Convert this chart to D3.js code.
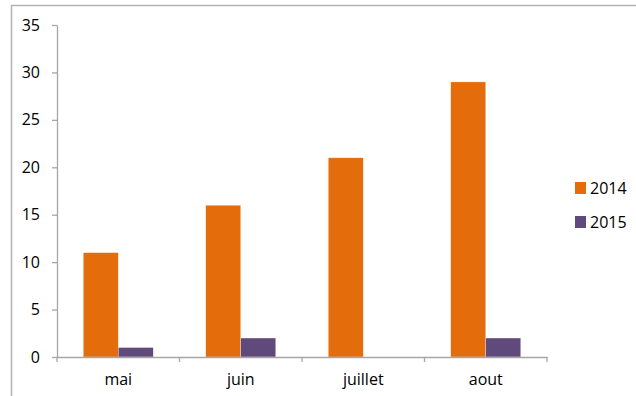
<!DOCTYPE html>
<html>
<head>
<meta charset="utf-8">
<script src="https://cdn.jsdelivr.net/npm/d3@7"></script>
<style>
  body { margin: 0; background: #fff; }
  text { font-family: "Open Sans", "Liberation Sans", sans-serif; fill: #000; }
</style>
</head>
<body>
<svg id="chart" width="636" height="396"></svg>
<script>
// chart data
var months = ["mai", "juin", "juillet", "aout"];
var years = ["2014", "2015"];
var values2014 = [11, 16, 21, 29];
var values2015 = [1, 2, 0, 2];
var yTicks = [0, 5, 10, 15, 20, 25, 30, 35];
var colors = ["#e46c0a", "#604a7b"];

var svg = d3.select("#chart");

// outer frame (only top and left edges show)
svg.append("line").attr("x1", 11).attr("x2", 636).attr("y1", 5.5).attr("y2", 5.5)
    .style("stroke", "#b3b3b3").style("stroke-width", 1.5);
svg.append("line").attr("x1", 11.5).attr("x2", 11.5).attr("y1", 5).attr("y2", 396)
    .style("stroke", "#b3b3b3").style("stroke-width", 1.5);

var plotLeft = 57, plotRight = 547, plotTop = 25, plotBottom = 357;

var x = d3.scaleBand().domain(months).range([plotLeft, plotRight]).padding(0);
var x1 = d3.scaleBand().domain(years).range([0, 70]);
var y = d3.scaleLinear().domain([0, 35]).range([plotBottom, plotTop]);

var rows = months.map(function(m, i){
    return {month: m, vals: [values2014[i], values2015[i]]};
});

// bars
var groups = svg.selectAll(".grp")
    .data(rows)
    .enter()
    .append("g")
    .attr("class", "grp")
    .attr("transform", function(d){ return "translate(" + (x(d.month) + (x.bandwidth() - 70) / 2) + ",0)"; });

groups.selectAll("rect")
    .data(function(d){ return d.vals.map(function(v, j){ return {year: years[j], v: v, j: j}; }); })
    .enter()
    .append("rect")
    .attr("x", function(d){ return x1(d.year); })
    .attr("width", x1.bandwidth())
    .attr("y", function(d){ return y(d.v); })
    .attr("height", function(d){ return plotBottom - y(d.v); })
    .style("fill", function(d){ return colors[d.j]; })
    .style("stroke", "#fff").style("stroke-width", 0.5).style("stroke-opacity", 0.6);

// y axis
var yAxis = svg.append("g").attr("transform", "translate(" + plotLeft + ",0)")
    .call(d3.axisLeft(y).tickValues(yTicks).tickSize(5).tickPadding(12).tickSizeOuter(0));
yAxis.selectAll("text").style("font-size", "16px");

// x axis
var xAxis = svg.append("g").attr("transform", "translate(0," + plotBottom + ")")
    .call(d3.axisBottom(x).tickSize(0).tickPadding(17).tickSizeOuter(0));
xAxis.selectAll("text").style("font-size", "16px");
// category boundary ticks
xAxis.selectAll(".bound")
    .data(months.concat(["end"]))
    .enter()
    .append("line")
    .attr("class", "bound")
    .attr("x1", function(d, i){ return i < months.length ? x(d) : plotRight; })
    .attr("x2", function(d, i){ return i < months.length ? x(d) : plotRight; })
    .attr("y1", 0).attr("y2", 5);

svg.selectAll(".domain, .tick line, .bound").style("stroke", "#a6a6a6").style("stroke-width", 1.3);

// legend
var legend = svg.selectAll(".leg")
    .data(years)
    .enter()
    .append("g")
    .attr("class", "leg")
    .attr("transform", function(d, i){ return "translate(575," + (182 + i * 34) + ")"; });

legend.append("rect").attr("width", 11).attr("height", 12)
    .style("fill", function(d, i){ return colors[i]; });
legend.append("text").attr("x", 15).attr("y", 12)
    .style("font-size", "16px")
    .text(function(d){ return d; });
</script>
</body>
</html>
